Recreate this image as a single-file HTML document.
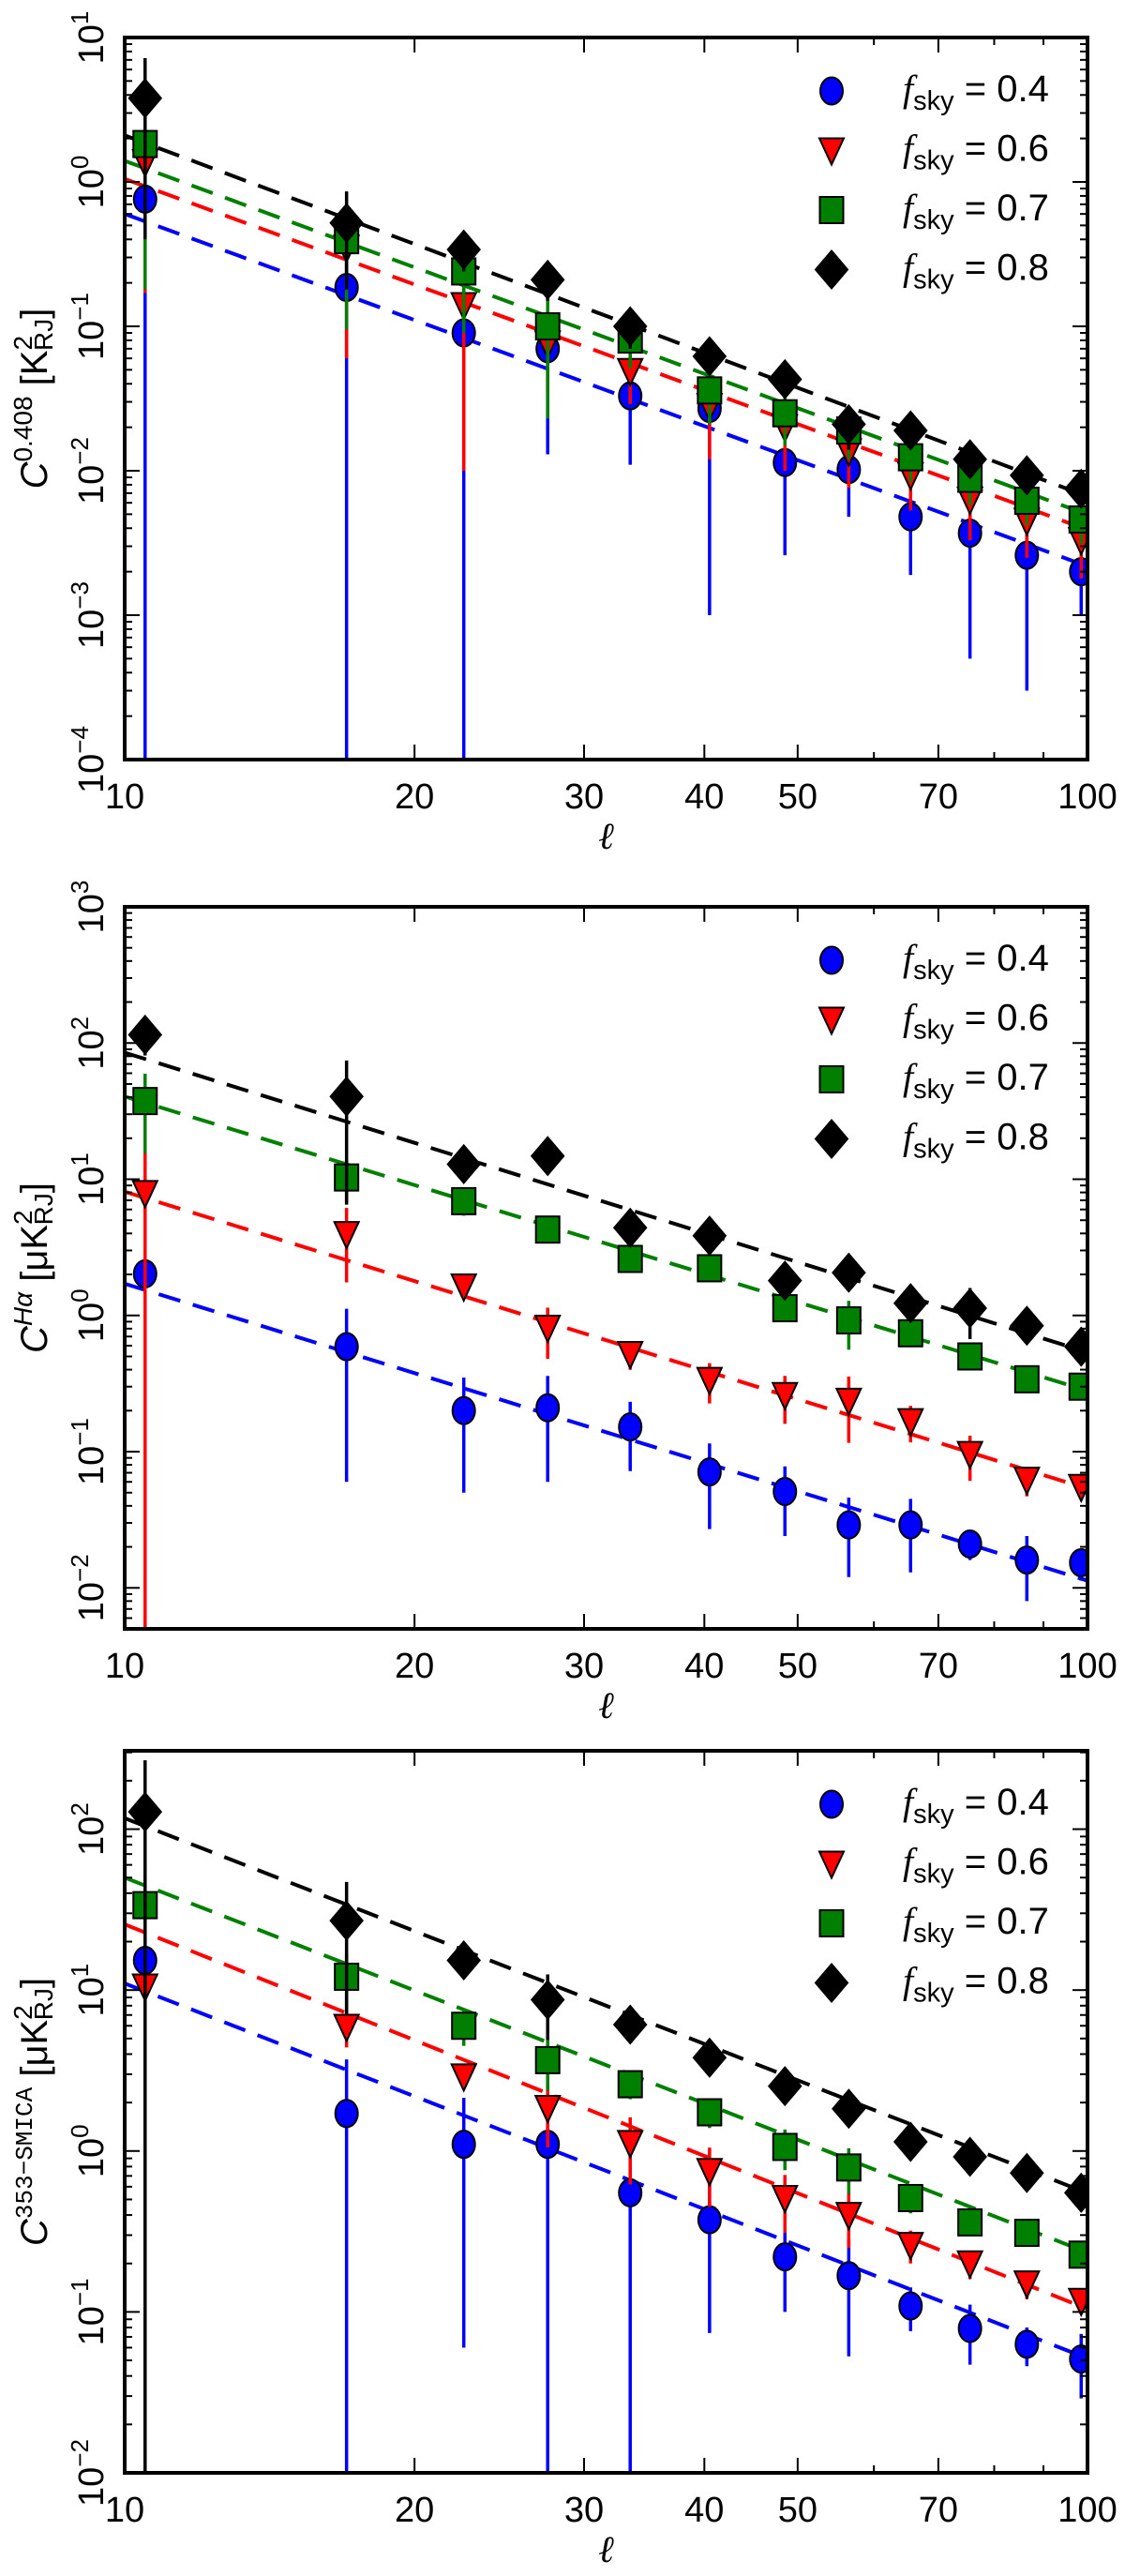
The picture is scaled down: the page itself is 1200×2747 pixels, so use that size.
<!DOCTYPE html>
<html><head><meta charset="utf-8">
<style>
html,body{margin:0;padding:0;background:#fff;}
svg{display:block;font-family:"Liberation Sans","DejaVu Sans",sans-serif;}
</style></head>
<body>
<svg id="fig" width="1200" height="2747" viewBox="0 0 1200 2747" xmlns="http://www.w3.org/2000/svg"></svg>
<script>
// ---- shared data ----
const ells = [10.5, 17, 22.5, 27.5, 33.5, 40.5, 48.5, 56.5, 65.5, 75.5, 86.5, 98.5];
const seriesLabels = ["0.4", "0.6", "0.7", "0.8"];
const xTickValues = [10, 20, 30, 40, 50, 70, 100];

// ---- panel 1 (408 MHz) ----
const p1Blue  = [0.76, 0.186, 0.09, 0.07, 0.033, 0.027, 0.0114, 0.0102, 0.0048, 0.0037, 0.0026, 0.002];
const p1BlueErr = [0.9, 0.25, 0.12, 0.057, 0.022, 0.026, 0.0088, 0.0054, 0.0029, 0.0032, 0.0023, 0.001];
const p1Red   = [1.37, 0.35, 0.14, 0.076, 0.049, 0.028, 0.02, 0.0136, 0.0093, 0.0063, 0.0045, 0.0033];
const p1RedErr = [1.2, 0.29, 0.13, 0.04, 0.02, 0.016, 0.01, 0.006, 0.004, 0.003, 0.002, 0.0015];
const p1Green = [1.83, 0.395, 0.24, 0.10, 0.081, 0.036, 0.025, 0.019, 0.0124, 0.0088, 0.0062, 0.0046];
const p1GreenErr = [1.65, 0.3, 0.15, 0.077, 0.03, 0.015, 0.01, 0.007, 0.004, 0.003, 0.002, 0.0015];
const p1Black = [3.8, 0.52, 0.34, 0.21, 0.10, 0.062, 0.043, 0.021, 0.019, 0.012, 0.0093, 0.0075];
const p1BlackErr = [3.4, 0.34, 0.1, 0.06, 0.03, 0.015, 0.01, 0.007, 0.004, 0.003, 0.002, 0.0015];
const p1FitAmp = [0.6, 1.05, 1.4, 2.1];
const p1FitSlope = [-2.44, -2.43, -2.45, -2.5];

// ---- panel 2 (H-alpha) ----
const p2Blue  = [2.02, 0.59, 0.2, 0.21, 0.152, 0.071, 0.051, 0.029, 0.029, 0.021, 0.016, 0.0153];
const p2BlueErr = [0.5, 0.53, 0.15, 0.15, 0.08, 0.044, 0.027, 0.017, 0.016, 0.005, 0.008, 0.004];
const p2Red   = [7.9, 3.95, 1.63, 0.81, 0.52, 0.336, 0.26, 0.236, 0.167, 0.096, 0.062, 0.055];
const p2RedErr = [8.0, 2.2, 0.3, 0.33, 0.12, 0.11, 0.1, 0.12, 0.05, 0.035, 0.015, 0.008];
const p2Green = [37.5, 10.3, 6.9, 4.27, 2.6, 2.22, 1.13, 0.92, 0.74, 0.5, 0.34, 0.3];
const p2GreenErr = [22, 3.5, 1.5, 0.5, 0.3, 0.25, 0.15, 0.36, 0.1, 0.05, 0.04, 0.03];
const p2Black = [115, 40.5, 12.9, 14.8, 4.4, 3.85, 1.8, 2.06, 1.23, 1.13, 0.84, 0.59];
const p2BlackErr = [34, 34, 2, 1, 0.6, 0.4, 0.2, 0.2, 0.15, 0.46, 0.08, 0.06];
const p2FitAmp = [1.71, 8.1, 40.5, 85];
const p2FitSlope = [-2.18, -2.18, -2.16, -2.2];

// ---- panel 3 (353 - SMICA) ----
const p3Blue  = [15.3, 1.71, 1.1, 1.1, 0.55, 0.374, 0.22, 0.168, 0.109, 0.079, 0.063, 0.051];
const p3BlueErr = [20, 2.0, 1.04, 1.2, 0.6, 0.3, 0.12, 0.115, 0.033, 0.032, 0.017, 0.022];
const p3Red   = [10.5, 5.9, 2.9, 1.85, 1.12, 0.75, 0.51, 0.4, 0.26, 0.2, 0.15, 0.117];
const p3RedErr = [5, 1.5, 0.5, 0.8, 0.5, 0.3, 0.2, 0.15, 0.06, 0.04, 0.03, 0.02];
const p3Green = [33.7, 12.1, 6.0, 3.67, 2.6, 1.74, 1.06, 0.79, 0.51, 0.36, 0.31, 0.227];
const p3GreenErr = [20, 5, 1.5, 1.3, 0.5, 0.35, 0.3, 0.25, 0.1, 0.06, 0.05, 0.04];
const p3Black = [128, 27, 15.3, 8.7, 6.1, 3.8, 2.53, 1.83, 1.14, 0.92, 0.73, 0.55];
const p3BlackErr = [140, 20, 2, 3.8, 1, 0.6, 0.3, 0.3, 0.2, 0.15, 0.1, 0.08];
const p3FitAmp = [11, 25.6, 50, 117];
const p3FitSlope = [-2.33, -2.39, -2.33, -2.33];

const NS = "http://www.w3.org/2000/svg";
const svg = document.getElementById('fig');
const colors = ["#0000ff", "#ff0000", "#007f00", "#000000"];
const markers = ["circle", "tri", "square", "diamond"];
const X0 = 133, X1 = 1160;

function mk(tag, attrs, parent) {
  const e = document.createElementNS(NS, tag);
  for (const k in attrs) e.setAttribute(k, attrs[k]);
  (parent || svg).appendChild(e);
  return e;
}

function drawMarker(g, kind, cx, cy, color) {
  let m;
  if (kind === "circle") m = mk('ellipse', {cx: cx, cy: cy, rx: 12, ry: 14.5, fill: color, stroke: '#000', 'stroke-width': 2}, g);
  else if (kind === "tri") m = mk('polygon', {points: `${cx-13},${cy-13} ${cx+13},${cy-13} ${cx},${cy+15}`, fill: color, stroke: '#000', 'stroke-width': 2}, g);
  else if (kind === "square") m = mk('rect', {x: cx-12.5, y: cy-14, width: 25, height: 28, fill: color, stroke: '#000', 'stroke-width': 2}, g);
  else m = mk('polygon', {points: `${cx},${cy-20} ${cx+17},${cy} ${cx},${cy+20} ${cx-17},${cy}`, fill: color, stroke: '#000', 'stroke-width': 2}, g);
  return m;
}

function drawPanel(cfg) {
  const {top, bot, ymin, ymax, series, errs, amps, slopes, name, ylabelParts, xlabY, ellY} = cfg;
  const g = mk('g', {});
  
  
  const xs = v => X0 + (Math.log10(v) - 1) * (X1 - X0);
  const ys = v => bot - (Math.log10(v) - ymin) / (ymax - ymin) * (bot - top);
  const clipId = name + '-clip';
  const defs = mk('defs', {}, g);
  const cp = mk('clipPath', {id: clipId}, defs);
  mk('rect', {x: X0, y: top, width: X1 - X0, height: bot - top}, cp);
  const plot = mk('g', {'clip-path': `url(#${clipId})`}, g);
  
  

  for (let s = 0; s < 4; s++) {
    const l0 = 10, l1 = 100;
    const v0 = amps[s], v1 = amps[s] * Math.pow(l1 / 10, slopes[s]);
    const ln = mk('line', {x1: xs(l0), y1: ys(v0), x2: xs(l1), y2: ys(v1), stroke: colors[s], 'stroke-width': 4, 'stroke-dasharray': '24,14'}, plot);
    
    
  }
  for (let s = 0; s < 4; s++) {
    const sg = mk('g', {}, plot);
    
    
    for (let i = 0; i < ells.length; i++) {
      const v = series[s][i], e = errs[s][i];
      const lo = v - e > 0 ? ys(v - e) : bot + 10;
      const hi = ys(v + e);
      const eb = mk('line', {x1: xs(ells[i]), y1: lo, x2: xs(ells[i]), y2: hi, stroke: colors[s], 'stroke-width': 3.5}, sg);
      
      
    }
    for (let i = 0; i < ells.length; i++) {
      const m = drawMarker(sg, markers[s], xs(ells[i]), ys(series[s][i]), colors[s]);
      
      
    }
  }
  const fr = mk('rect', {x: X0, y: top, width: X1 - X0, height: bot - top, fill: 'none', stroke: '#000', 'stroke-width': 4}, g);
  
  
  for (let d = 10; d <= 100; d += 10) {
    const x = xs(d);
    const len = (d === 60 || d === 80 || d === 90) ? 8 : 16;
    mk('line', {x1: x, y1: bot, x2: x, y2: bot - len, stroke: '#000', 'stroke-width': 2}, g);
    mk('line', {x1: x, y1: top, x2: x, y2: top + len, stroke: '#000', 'stroke-width': 2}, g);
  }
  xTickValues.forEach(v => {
    const t = mk('text', {x: xs(v), y: xlabY, 'font-size': 38, 'text-anchor': 'middle'}, g);
    t.textContent = String(v);
    
    
  });
  const xl = mk('text', {x: (X0 + X1) / 2, y: ellY, 'font-size': 40, 'font-style': 'italic', 'text-anchor': 'middle', 'font-family': 'Liberation Serif, serif'}, g);
  xl.textContent = 'ℓ';
  
  
  for (let d = Math.floor(ymin); d <= Math.ceil(ymax); d++) {
    for (let k = 1; k <= 9; k++) {
      const lv = d + Math.log10(k);
      if (lv < ymin - 1e-6 || lv > ymax + 1e-6) continue;
      const y = ys(Math.pow(10, lv));
      const len = k === 1 ? 16 : 8;
      mk('line', {x1: X0, y1: y, x2: X0 + len, y2: y, stroke: '#000', 'stroke-width': 2}, g);
      mk('line', {x1: X1, y1: y, x2: X1 - len, y2: y, stroke: '#000', 'stroke-width': 2}, g);
      if (k === 1) {
        const t = mk('text', {x: 0, y: 0, 'font-size': 38, 'text-anchor': 'middle', transform: `translate(110,${y}) rotate(-90)`}, g);
        
        
        const a = mk('tspan', {}, t); a.textContent = '10';
        const b = mk('tspan', {dy: -16, 'font-size': 26}, t); b.textContent = (d < 0 ? '−' : '') + Math.abs(d);
      }
    }
  }
  const yt = mk('text', {x: 0, y: 0, 'font-size': 40, 'text-anchor': 'middle', transform: `translate(50,${(top + bot) / 2}) rotate(-90)`}, g);
  
  
  ylabelParts.forEach(p => {
    const ts = mk('tspan', p.attrs || {}, yt);
    ts.textContent = p.t;
  });
  const lg = mk('g', {}, g);
  
  
  for (let s = 0; s < 4; s++) {
    const cy = top + 57 + s * 63.5;
    const m = drawMarker(lg, markers[s], 887, cy, colors[s]);
    
    
    const t = mk('text', {x: 963, y: cy + 11, 'font-size': 40}, lg);
    
    
    const f = mk('tspan', {'font-style': 'italic', 'font-family': 'Liberation Serif, serif'}, t); f.textContent = 'f';
    const sub = mk('tspan', {dy: 9, 'font-size': 29}, t); sub.textContent = 'sky';
    const rest = mk('tspan', {dy: -9}, t); rest.textContent = ' = ' + seriesLabels[s];
  }
}

drawPanel({name: 'panel-408', top: 40, bot: 810, ymin: -4, ymax: 1,
  series: [p1Blue, p1Red, p1Green, p1Black], errs: [p1BlueErr, p1RedErr, p1GreenErr, p1BlackErr],
  amps: p1FitAmp, slopes: p1FitSlope, xlabY: 862, ellY: 905,
  ylabelParts: [{t: 'C', attrs: {'font-style': 'italic'}}, {t: '0.408', attrs: {dy: -16, 'font-size': 28}}, {t: ' [K', attrs: {dy: 16}}, {t: '2', attrs: {dy: -16, 'font-size': 28}}, {t: 'RJ', attrs: {dy: 22, dx: -16, 'font-size': 28}}, {t: ']', attrs: {dy: -6}}]});

drawPanel({name: 'panel-halpha', top: 967, bot: 1737, ymin: Math.log10(0.005), ymax: 3,
  series: [p2Blue, p2Red, p2Green, p2Black], errs: [p2BlueErr, p2RedErr, p2GreenErr, p2BlackErr],
  amps: p2FitAmp, slopes: p2FitSlope, xlabY: 1789, ellY: 1832,
  ylabelParts: [{t: 'C', attrs: {'font-style': 'italic'}}, {t: 'Hα', attrs: {dy: -16, 'font-size': 28, 'font-style': 'italic'}}, {t: ' [μK', attrs: {dy: 16}}, {t: '2', attrs: {dy: -16, 'font-size': 28}}, {t: 'RJ', attrs: {dy: 22, dx: -16, 'font-size': 28}}, {t: ']', attrs: {dy: -6}}]});

drawPanel({name: 'panel-353-smica', top: 1867, bot: 2637, ymin: -2, ymax: 2.487,
  series: [p3Blue, p3Red, p3Green, p3Black], errs: [p3BlueErr, p3RedErr, p3GreenErr, p3BlackErr],
  amps: p3FitAmp, slopes: p3FitSlope, xlabY: 2689, ellY: 2732,
  ylabelParts: [{t: 'C', attrs: {'font-style': 'italic'}}, {t: '353−SMICA', attrs: {dy: -16, 'font-size': 26, 'font-family': 'Liberation Mono, monospace'}}, {t: ' [μK', attrs: {dy: 16}}, {t: '2', attrs: {dy: -16, 'font-size': 28}}, {t: 'RJ', attrs: {dy: 22, dx: -16, 'font-size': 28}}, {t: ']', attrs: {dy: -6}}]});
</script>
</body></html>
